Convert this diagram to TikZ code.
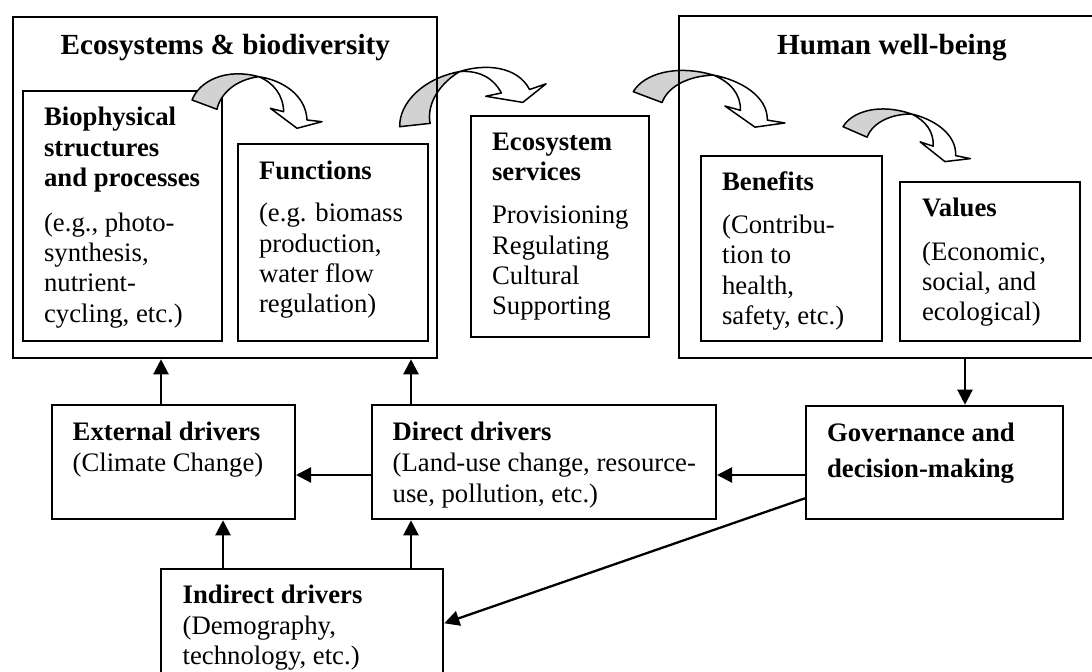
\documentclass[tikz,border=0pt]{standalone}
\usepackage{fontspec}
\setmainfont{Liberation Serif}
\usetikzlibrary{arrows.meta,fit}
\newcommand\mytab[1]{\begin{tabular}[t]{@{}l@{}}#1\end{tabular}}
\newcommand\curvarrow{%
  \filldraw[carr, fill=gray!35] (0,0) -- (25,9.3) .. controls (28,-5) and (42,-20) .. (66.7,-23.3)
     .. controls (35,-32) and (8,-20) .. (0,0) -- cycle;
  \filldraw[carr, fill=white] (66.7,-23.3) .. controls (90,-20) and (114,-5) .. (115,20)
     -- (130,21.7) -- (105,28.3) -- (78.3,8.3) -- (91.7,11.7)
     .. controls (91,-5) and (82,-17) .. (66.7,-23.3) -- cycle;
}
\begin{document}
\begin{tikzpicture}[x=0.5pt,y=-0.5pt,
  box/.style={draw, line width=1pt, inner sep=0pt},
  con/.style={line width=1.15pt, -{Triangle[length=7.5pt,width=7.5pt]}},
  txt/.style={anchor=base west, inner sep=0pt, font=\fontsize{13.35}{15.15}\selectfont},
  ttl/.style={anchor=base west, inner sep=0pt, font=\fontsize{14.6}{17}\selectfont\bfseries},
  carr/.style={line width=0.75pt, line join=round},
]
\useasboundingbox (0,0) rectangle (1092,672);

% curved arrows crossing the outer boxes (drawn below the box lines)
\begin{scope}[shift={(399.7,126.7)}, rotate=25, xscale=1.16, yscale=1.06]
  \curvarrow
\end{scope}
\begin{scope}[shift={(633.3,91.7)}, rotate=-4, xscale=1.18, yscale=0.95]
  \curvarrow
\end{scope}

% boxes
\node[box, fit={(12.5,17.3) (437,358.3)}] (eco) {};
\node[box, fit={(679.3,16.5) (1096,357.7)}] (hwb) {};
\node[box, fit={(23,90.7) (222,340.7)}] (bio) {};
\node[box, fit={(237.7,144.3) (427.7,340.7)}] (fun) {};
\node[box, fit={(471,115.7) (649.3,336.7)}] (es) {};
\node[box, fit={(701,155.7) (881.7,340.7)}] (ben) {};
\node[box, fit={(900,181.7) (1080,340.7)}] (val) {};
\node[box, fit={(51.7,405) (295,519.3)}] (ext) {};
\node[box, fit={(371.7,405) (716,519.3)}] (dir) {};
\node[box, fit={(806,405.7) (1063.3,519.3)}] (gov) {};
\node[box, fit={(161,569.3) (443.3,676)}] (ind) {};

% curved arrows inside the boxes
\begin{scope}[shift={(192,100)}]
  \curvarrow
\end{scope}
\begin{scope}[shift={(843,126.7)}, rotate=-6, xscale=1.0, yscale=0.85]
  \curvarrow
\end{scope}

% titles
\node[ttl] (ecot) at (60.3,55) {Ecosystems \& biodiversity};
\node[ttl] (hwbt) at (776.7,54.3) {Human well-being};

% texts
\node[txt] (biot) at (43.7,126) {\mytab{\textbf{Biophysical}\\ \textbf{structures}\\ \textbf{and processes}\\[7.2pt] (e.g., photo-\\ synthesis,\\ nutrient-\\ cycling, etc.)}};
\node[txt] (funt) at (258.7,179.3) {\mytab{\textbf{Functions}\\[6.2pt] (e.g. biomass\\ production,\\ water flow\\ regulation)}};
\node[txt] (est) at (491.7,150.7) {\mytab{\textbf{Ecosystem}\\ \textbf{services}\\[6.3pt] Provisioning\\ Regulating\\ Cultural\\ Supporting}};
\node[txt] (bent) at (721.7,190.7) {\mytab{\textbf{Benefits}\\[6.3pt] (Contribu-\\ tion to\\ health,\\ safety, etc.)}};
\node[txt] (valt) at (921.7,216.7) {\mytab{\textbf{Values}\\[6.6pt] (Economic,\\ social, and\\ ecological)}};
\node[txt] (extt) at (72.3,440.7) {\mytab{\textbf{External drivers}\\[0.4pt] (Climate Change)}};
\node[txt] (dirt) at (392.3,440.7) {\mytab{\textbf{Direct drivers}\\[0.4pt] (Land-use change, resource-\\ use, pollution, etc.)}};
\node[txt] (govt) at (826.7,441.7) {\mytab{\textbf{Governance and}\\[2.7pt] \textbf{decision-making}}};
\node[txt] (indt) at (182.3,603.3) {\mytab{\textbf{Indirect drivers}\\[0.4pt] (Demography,\\ technology, etc.)}};

% connectors
\draw[con] (161,0 |- ext.north) -- (161,0 |- eco.south);
\draw[con] (411,0 |- dir.north) -- (411,0 |- eco.south);
\draw[con] (223,0 |- ind.north) -- (223,0 |- ext.south);
\draw[con] (411,0 |- ind.north) -- (411,0 |- dir.south);
\draw[con] (dir.west |- 0,475) -- (ext.east |- 0,475);
\draw[con] (gov.west |- 0,475) -- (dir.east |- 0,475);
\draw[con] (965,0 |- hwb.south) -- (965,0 |- gov.north);
\draw[con] (gov.west |- 0,498.3) -- (ind.east |- 0,623.3);
\end{tikzpicture}
\end{document}
